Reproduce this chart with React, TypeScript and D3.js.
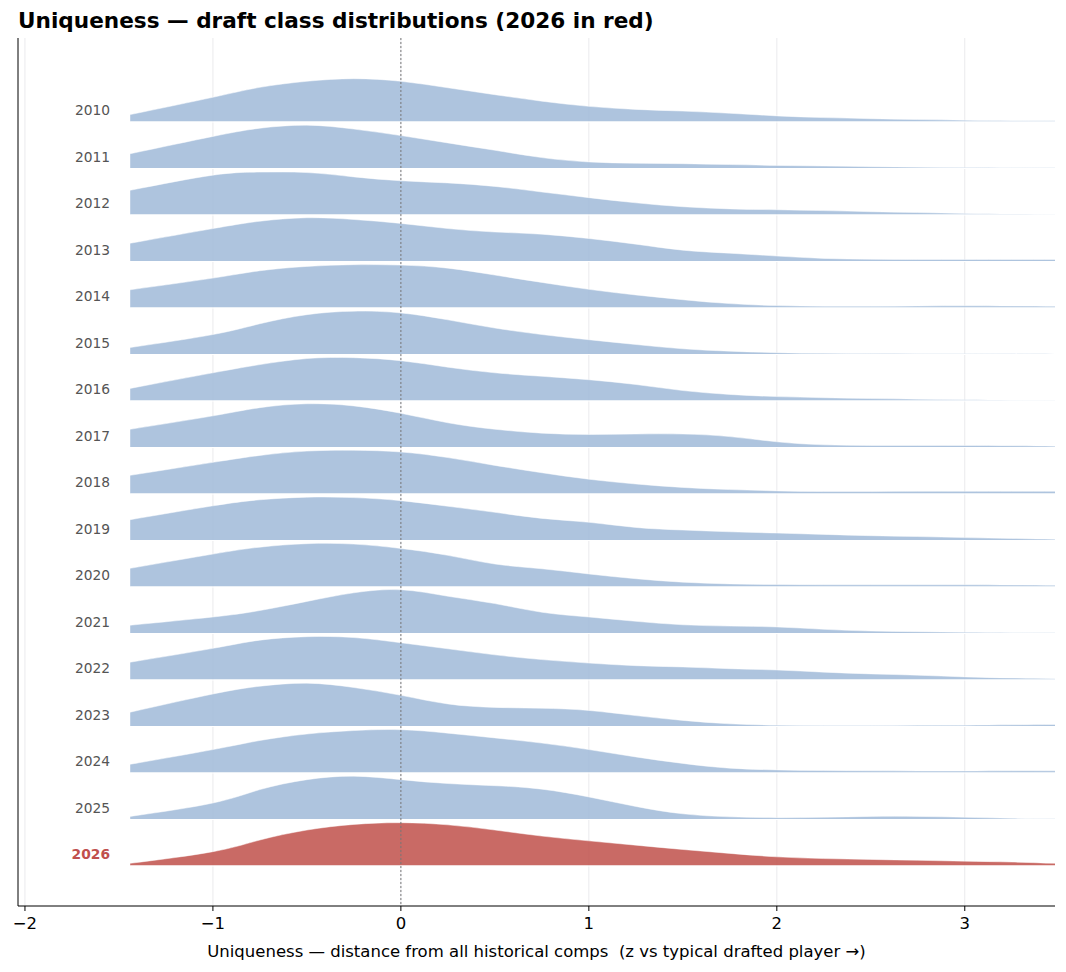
import React from "react";
import * as d3 from "d3";

// z-grid the densities were evaluated on
const grid = [-1.44, -1, -0.75, -0.5, -0.25, 0, 0.25, 0.5, 0.75, 1, 1.25, 1.5, 1.75, 2, 2.25, 2.5, 2.75, 3, 3.25, 3.48];

// per-class KDE, scaled to peak = 1
const d2010 = [0.16, 0.56, 0.79, 0.93, 0.99, 0.93, 0.78, 0.62, 0.47, 0.35, 0.28, 0.24, 0.19, 0.13, 0.09, 0.065, 0.045, 0.03, 0.02, 0.015];
const d2011 = [0.33, 0.73, 0.92, 0.99, 0.9, 0.75, 0.58, 0.41, 0.24, 0.14, 0.11, 0.1, 0.08, 0.06, 0.045, 0.03, 0.02, 0.012, 0.008, 0.005];
const d2012 = [0.56, 0.91, 0.98, 0.97, 0.87, 0.78, 0.73, 0.65, 0.52, 0.39, 0.27, 0.18, 0.13, 0.11, 0.09, 0.065, 0.045, 0.025, 0.012, 0.006];
const d2013 = [0.41, 0.75, 0.92, 1.0, 0.96, 0.87, 0.75, 0.67, 0.62, 0.52, 0.39, 0.25, 0.18, 0.115, 0.06, 0.04, 0.035, 0.035, 0.035, 0.035];
const d2014 = [0.41, 0.68, 0.85, 0.95, 0.99, 0.98, 0.91, 0.75, 0.58, 0.42, 0.29, 0.18, 0.09, 0.045, 0.03, 0.03, 0.035, 0.04, 0.035, 0.03];
const d2015 = [0.15, 0.45, 0.7, 0.91, 0.99, 0.95, 0.79, 0.6, 0.45, 0.33, 0.22, 0.12, 0.065, 0.03, 0.015, 0.01, 0.006, 0.004, 0.003, 0.002];
const d2016 = [0.28, 0.64, 0.83, 0.97, 0.99, 0.92, 0.77, 0.64, 0.56, 0.48, 0.37, 0.23, 0.14, 0.09, 0.065, 0.045, 0.03, 0.015, 0.008, 0.004];
const d2017 = [0.41, 0.72, 0.91, 1.0, 0.95, 0.78, 0.56, 0.41, 0.32, 0.29, 0.3, 0.3, 0.24, 0.12, 0.05, 0.035, 0.035, 0.035, 0.03, 0.02];
const d2018 = [0.42, 0.72, 0.88, 0.98, 1.0, 0.96, 0.83, 0.65, 0.48, 0.33, 0.22, 0.14, 0.09, 0.06, 0.045, 0.045, 0.05, 0.05, 0.05, 0.05];
const d2019 = [0.47, 0.79, 0.93, 0.99, 0.98, 0.91, 0.78, 0.64, 0.5, 0.41, 0.29, 0.23, 0.19, 0.16, 0.13, 0.1, 0.08, 0.055, 0.035, 0.015];
const d2020 = [0.42, 0.75, 0.91, 0.99, 0.98, 0.88, 0.72, 0.52, 0.41, 0.29, 0.18, 0.1, 0.06, 0.045, 0.04, 0.04, 0.04, 0.04, 0.035, 0.03];
const d2021 = [0.18, 0.37, 0.52, 0.73, 0.93, 1.0, 0.85, 0.68, 0.48, 0.37, 0.27, 0.19, 0.16, 0.14, 0.085, 0.045, 0.03, 0.015, 0.008, 0.004];
const d2022 = [0.4, 0.72, 0.91, 0.99, 0.97, 0.85, 0.71, 0.57, 0.46, 0.38, 0.32, 0.29, 0.25, 0.22, 0.17, 0.13, 0.1, 0.06, 0.035, 0.02];
const d2023 = [0.32, 0.74, 0.92, 0.99, 0.89, 0.71, 0.51, 0.43, 0.41, 0.36, 0.24, 0.13, 0.05, 0.02, 0.012, 0.012, 0.018, 0.02, 0.028, 0.035];
const d2024 = [0.19, 0.53, 0.74, 0.89, 0.97, 0.99, 0.91, 0.8, 0.68, 0.53, 0.36, 0.21, 0.1, 0.06, 0.045, 0.04, 0.035, 0.035, 0.04, 0.04];
const d2025 = [0.06, 0.37, 0.68, 0.91, 0.99, 0.91, 0.82, 0.77, 0.69, 0.51, 0.29, 0.12, 0.05, 0.03, 0.04, 0.06, 0.06, 0.04, 0.015, 0.005];
const d2026 = [0.05, 0.32, 0.59, 0.82, 0.95, 0.99, 0.94, 0.82, 0.68, 0.57, 0.47, 0.37, 0.28, 0.2, 0.16, 0.14, 0.12, 0.1, 0.08, 0.05];

const years = [2010, 2011, 2012, 2013, 2014, 2015, 2016, 2017, 2018, 2019, 2020, 2021, 2022, 2023, 2024, 2025, 2026];
const densities = [d2010, d2011, d2012, d2013, d2014, d2015, d2016, d2017, d2018, d2019, d2020, d2021, d2022, d2023, d2024, d2025, d2026];
const xTicks = [-2, -1, 0, 1, 2, 3];
const highlightYear = 2026;

const W = 1066;
const H = 972;
const left = 18;
const right = 1055;
const top = 38;
const bottom = 906;

const BLUE = "#a0bad8";
const RED = "#c0504a";
const FONT = "DejaVu Sans, sans-serif";

export default function App() {
  const x = d3.scaleLinear().domain([-2.037, 3.48]).range([left, right]);
  const row = d3.scaleLinear().domain([0, years.length - 1]).range([121.5, 865.5]);
  const step = row(1) - row(0);
  const h = d3.scaleLinear().domain([0, 1]).range([0, step * 0.93]);
  const curve = d3.curveNatural;

  const ridge = (i: number) =>
    d3
      .area<number>()
      .x((_, j) => x(grid[j]))
      .y0(row(i))
      .y1((d) => row(i) - h(d))
      .curve(curve)(densities[i]) as string;

  const edge = (i: number) =>
    d3
      .line<number>()
      .x((_, j) => x(grid[j]))
      .y((d) => row(i) - h(d))
      .curve(curve)(densities[i]) as string;

  const fmt = (t: number) => (t < 0 ? "\u2212" + Math.abs(t) : String(t));

  return (
    <svg
      width={W}
      height={H}
      style={{ position: "absolute", left: 0, top: 0, background: "#fff" }}
      fontFamily={FONT}
    >
      <text x={18} y={28} fontSize={21.6} fontWeight="bold" fill="#000">
        Uniqueness — draft class distributions (2026 in red)
      </text>

      {xTicks.map((t) => (
        <line key={"g" + t} x1={x(t)} x2={x(t)} y1={top} y2={bottom} stroke="#e4e4e8" strokeWidth={0.8} />
      ))}

      {years.map((yr, i) => (
        <g key={yr}>
          <path d={ridge(i)} fill={yr === highlightYear ? RED : BLUE} fillOpacity={0.85} stroke="none" />
          <path d={edge(i)} fill="none" stroke="#fff" strokeOpacity={0.6} strokeWidth={0.8} />
          <line x1={x(grid[0])} x2={right} y1={row(i) + 0.5} y2={row(i) + 0.5} stroke="#fff" strokeWidth={1} />
        </g>
      ))}

      <line x1={x(0)} x2={x(0)} y1={top} y2={bottom} stroke="#777" strokeWidth={1} strokeDasharray="2,2" />

      {years.map((yr, i) => (
        <text
          key={"l" + yr}
          x={110}
          y={row(i) - 11}
          dy="0.35em"
          textAnchor="end"
          fontSize={13.8}
          fontWeight={yr === highlightYear ? "bold" : "normal"}
          fill={yr === highlightYear ? "#c0504d" : "#555"}
        >
          {yr}
        </text>
      ))}

      <line x1={left} x2={left} y1={top} y2={bottom} stroke="#000" strokeWidth={1} />
      <line x1={left} x2={right} y1={bottom} y2={bottom} stroke="#000" strokeWidth={1} />

      {xTicks.map((t) => (
        <g key={"t" + t} transform={`translate(${x(t)},${bottom})`}>
          <line y1={0} y2={5} stroke="#000" strokeWidth={1} />
          <text y={23} textAnchor="middle" fontSize={16.5} fill="#000">
            {fmt(t)}
          </text>
        </g>
      ))}

      <text x={(left + right) / 2} y={957} textAnchor="middle" fontSize={16.5} fill="#000" style={{ whiteSpace: "pre" }}>
        {"Uniqueness — distance from all historical comps  (z vs typical drafted player →)"}
      </text>
    </svg>
  );
}
